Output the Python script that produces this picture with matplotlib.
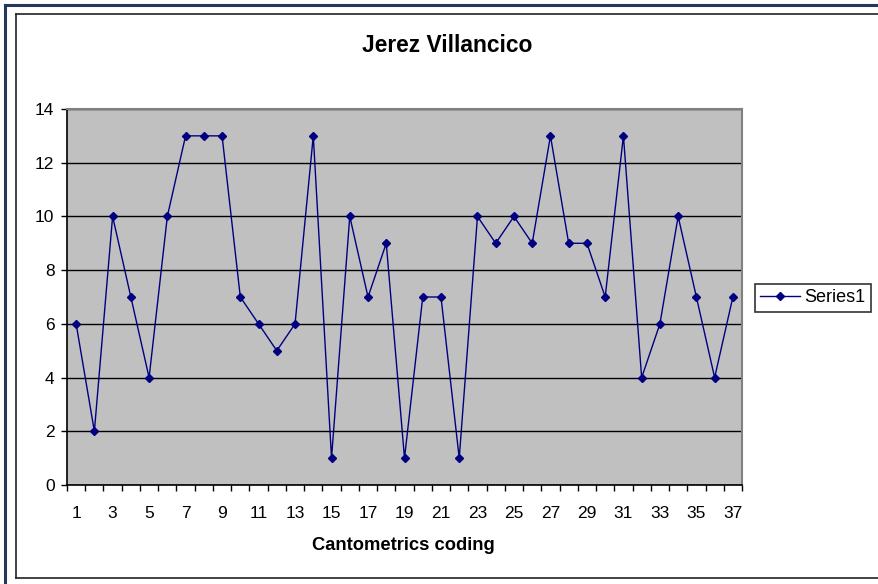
import matplotlib
matplotlib.use("Agg")
import matplotlib.pyplot as plt
from matplotlib.lines import Line2D
from matplotlib.ticker import FixedLocator

plt.rcParams['font.family'] = ['Liberation Sans', 'DejaVu Sans']

categories = list(range(1, 38))
values = [6, 2, 10, 7, 4, 10, 13, 13, 13, 7, 6, 5, 6, 13, 1, 10, 7, 9, 1, 7,
          7, 1, 10, 9, 10, 9, 13, 9, 9, 7, 13, 4, 6, 10, 7, 4, 7]
tick_labels = [str(c) for c in categories if c % 2 == 1]
title = "Jerez Villancico"
xlabel = "Cantometrics coding"
series_name = "Series1"

W, H = 879, 584
fig = plt.figure(figsize=(W / 100, H / 100), dpi=100)

def fx(px):
    return px / W

def fy(py):
    return 1 - py / H

# outer blue frame lines and inner black frame
fig.add_artist(Line2D([fx(5), fx(5)], [fy(5), fy(584)], color='#26365e', lw=2.2))
fig.add_artist(Line2D([fx(5), fx(879)], [fy(5), fy(5)], color='#26365e', lw=2.2))
fig.add_artist(Line2D([fx(16), fx(16)], [fy(14), fy(578)], color='#222222', lw=1.2))
fig.add_artist(Line2D([fx(16), fx(879)], [fy(14), fy(14)], color='#222222', lw=1.2))
fig.add_artist(Line2D([fx(16), fx(879)], [fy(578), fy(578)], color='#222222', lw=1.2))

ax = fig.add_axes([fx(67), fy(485), fx(742) - fx(67), fy(109) - fy(485)])
ax.set_facecolor('#c0c0c0')
ax.set_axisbelow(True)

ax.plot(categories, values, color='#000080', lw=1.0, marker='D', markersize=4.5,
        markerfacecolor='#000080', markeredgecolor='#000080', label=series_name, zorder=3)

ax.set_xlim(0.5, 37.5)
ax.set_ylim(0, 14)
ax.set_yticks(range(0, 15, 2))
ax.yaxis.grid(True, color='black', lw=1.0)
ax.xaxis.set_major_locator(FixedLocator([c for c in categories if c % 2 == 1]))
ax.set_xticklabels(tick_labels)
ax.xaxis.set_minor_locator(FixedLocator([c + 0.5 for c in range(0, 38)]))
ax.tick_params(axis='x', which='major', length=0, pad=15, labelsize=12.5)
ax.tick_params(axis='x', which='minor', length=4, width=1, color='black', direction='out')
ax.tick_params(axis='y', length=4, width=1, color='black', direction='out', labelsize=12.5, pad=5)

for s in ['top', 'right']:
    ax.spines[s].set_color('#808080')
    ax.spines[s].set_linewidth(1.5)
for s in ['left', 'bottom']:
    ax.spines[s].set_color('black')
    ax.spines[s].set_linewidth(1.2)

fig.text(fx(447), fy(45), title, ha='center', va='center', fontsize=16.4, fontweight='bold')
fig.text(fx(403), fy(545), xlabel, ha='center', va='center', fontsize=13.2, fontweight='bold')

leg = fig.legend(handles=[Line2D([], [], color='#000080', lw=1.0, marker='D', markersize=4.5)],
                 labels=[series_name], loc='center left',
                 bbox_to_anchor=(fx(755), fy(298)), frameon=True, fancybox=False,
                 edgecolor='black', fontsize=13, handlelength=2.2, borderpad=0.3,
                 handletextpad=0.25, borderaxespad=0)
leg.get_frame().set_linewidth(1.2)

fig.savefig('out.png', dpi=100)
